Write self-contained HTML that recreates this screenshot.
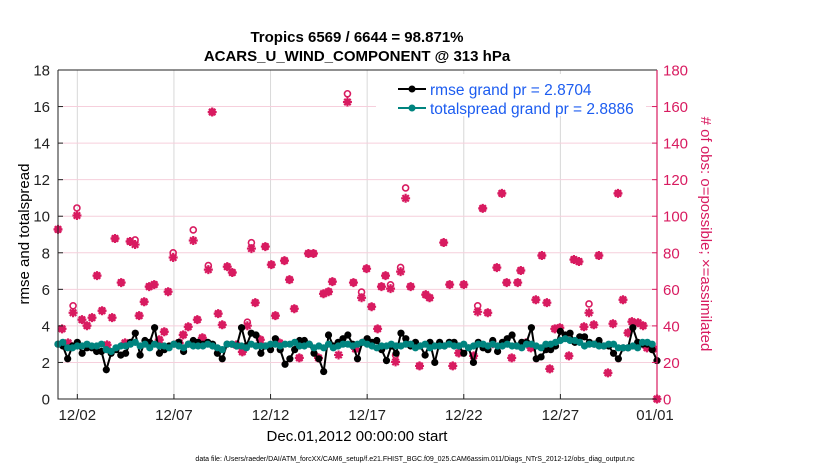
<!DOCTYPE html>
<html><head><meta charset="utf-8"><style>
body{margin:0;background:#fff;}
svg{display:block;font-family:"Liberation Sans",sans-serif;}
</style></head><body>
<svg id="chart" width="830" height="470" viewBox="0 0 830 470">
<g id="grid"></g>
<g id="series"></g>
<g id="axes"></g>
<text x="357" y="42" text-anchor="middle" font-size="15" font-weight="bold">Tropics 6569 / 6644 = 98.871%</text>
<text x="357" y="61" text-anchor="middle" font-size="15" font-weight="bold">ACARS_U_WIND_COMPONENT @ 313 hPa</text>
<text transform="translate(29,234) rotate(-90)" text-anchor="middle" font-size="15">rmse and totalspread</text>
<text transform="translate(701,234) rotate(90)" text-anchor="middle" font-size="15" fill="#d81b60"># of obs: o=possible; ×=assimilated</text>
<text x="357" y="441" text-anchor="middle" font-size="15">Dec.01,2012 00:00:00 start</text>
<text x="415" y="461" text-anchor="middle" font-size="7">data file: /Users/raeder/DAI/ATM_forcXX/CAM6_setup/f.e21.FHIST_BGC.f09_025.CAM6assim.011/Diags_NTrS_2012-12/obs_diag_output.nc</text>
<g>
<rect x="376" y="74" width="270" height="42" fill="#fff"/>
<g>
<line x1="398" y1="89" x2="426" y2="89" stroke="#000" stroke-width="2"/><circle cx="412" cy="89" r="3.5" fill="#000"/>
<text x="430" y="95" font-size="15.5" fill="#1c5cf0">rmse grand pr = 2.8704</text></g>
<g>
<line x1="398" y1="108" x2="426" y2="108" stroke="#00847f" stroke-width="2"/><circle cx="412" cy="108" r="3.5" fill="#00847f"/>
<text x="430" y="114" font-size="15.5" fill="#1c5cf0">totalspread grand pr = 2.8886</text></g>
</g>
</svg>
<script>
const rmse=[3.0,2.9,2.2,2.9,3.1,2.5,2.8,2.8,2.6,2.6,1.6,2.5,2.7,2.4,2.5,3.1,3.6,2.4,3.2,3.1,3.9,2.5,2.7,2.9,3.0,3.1,2.6,3.0,3.2,3.1,3.0,3.1,3.0,2.5,2.2,3.0,3.0,2.9,3.9,2.9,3.6,3.5,2.5,2.9,2.7,3.3,2.7,1.9,2.2,2.7,3.2,3.2,3.0,2.5,2.2,1.5,3.5,2.9,3.1,3.3,3.5,3.0,
2.2,3.1,3.3,3.1,3.2,2.7,2.1,2.9,2.5,3.6,3.3,2.9,3.1,2.9,2.4,3.1,2.0,3.1,2.9,3.1,3.1,2.9,2.5,2.8,2.0,3.1,2.8,2.7,3.2,2.6,3.1,3.3,3.5,2.9,3.1,3.1,3.9,2.2,2.3,2.7,2.7,2.9,3.7,3.5,3.6,3.1,3.4,3.4,3.1,3.0,3.2,2.9,2.9,2.5,2.2,2.8,2.8,3.9,3.1,3.0,3.0,2.7,2.1];
const spread=[3.0,3.1,2.8,2.8,2.9,2.9,3.0,2.9,2.9,3.0,2.7,2.6,2.8,2.9,2.9,3.0,3.1,2.9,3.0,2.8,3.0,2.9,2.9,2.8,3.0,2.9,2.8,3.0,2.9,2.9,2.9,3.0,2.9,2.8,2.7,3.0,3.0,2.9,2.9,2.8,3.0,2.9,2.9,2.9,3.0,3.0,2.9,3.0,3.0,3.1,2.9,2.9,3.0,2.8,2.9,2.8,3.0,2.8,2.9,3.0,3.0,2.9,
3.0,3.1,3.0,2.9,2.8,2.9,2.9,3.0,2.9,2.9,3.0,3.0,2.8,2.9,3.0,2.8,2.9,2.9,2.9,3.0,2.9,2.9,3.0,2.8,2.9,3.0,3.0,2.9,3.0,2.9,2.9,3.0,2.9,2.9,2.8,3.0,3.0,2.9,2.8,3.0,3.0,3.1,3.2,3.3,3.2,3.2,3.1,2.9,3.0,3.0,2.9,2.9,3.0,3.0,2.8,2.8,2.8,2.9,2.8,3.1,3.1,3.0];
const obsDay=[0.00,0.21,0.52,0.78,0.98,1.24,1.50,1.76,2.02,2.28,2.54,2.80,2.95,3.27,3.47,3.73,3.99,4.20,4.46,4.72,4.98,5.24,5.50,5.70,5.96,6.27,6.48,6.74,7.00,7.21,7.47,7.78,7.98,8.29,8.50,8.76,9.02,9.23,9.54,9.80,10.01,10.21,10.47,10.73,11.04,11.25,11.46,11.72,11.98,12.23,12.49,12.70,12.96,13.22,13.48,13.74,14.00,14.20,14.52,14.98,15.29,15.40,15.71,15.97,16.23,16.54,16.74,16.95,17.21,17.47,17.73,17.99,18.25,18.71,19.03,19.23,19.96,20.27,20.43,20.74,21.00,21.51,21.72,21.98,22.24,22.50,22.71,22.97,23.22,23.48,23.79,23.95,24.21,24.47,24.73,25.04,25.30,25.45,25.71,25.97,26.44,26.70,26.96,27.22,27.48,27.73,27.99,28.46,28.72,28.98,29.24,29.50,29.70,30.02,30.28,30.48,30.79,31.0];
const obsAssim=[92.8,38.4,30.7,47.2,100.4,43.4,40.1,44.5,67.5,48.3,29.6,44.5,87.8,63.7,30.7,86.2,84.5,45.6,53.2,61.5,62.6,32.4,36.8,58.7,77.4,30.7,35.1,39.5,86.7,43.4,33.5,70.8,157,46.7,40.6,72.4,69.2,29.6,25.8,40.1,82.3,52.7,32.4,83.4,73.5,45.6,30.7,75.7,65.3,49.4,22.5,30.7,79.6,79.6,22.5,57.6,58.7,64.2,24.1,162.5,63.7,27.4,55.4,71.3,50.5,38.4,61.5,67.5,60.4,20.3,69.7,109.8,61.5,18.1,57.1,55.4,85.6,62.6,18.1,25.2,62.6,23.6,47.7,104.3,47.2,30.2,71.9,112.5,63.7,22.5,63.7,70.3,30.7,28.0,54.3,78.5,52.7,16.5,38.4,39.0,23.6,76.3,75.2,39.5,47.2,40.6,78.5,14.3,41.2,112.5,54.3,36.2,42.3,41.7,40.1,28.0,27.4,0];
const obsPossible=[92.8,38.4,30.7,51,104.5,43.4,40.1,44.5,67.5,48.3,29.6,44.5,87.8,63.7,30.7,86.2,87,45.6,53.2,61.5,62.6,32.4,36.8,58.7,80,30.7,35.1,39.5,92.5,43.4,33.5,73,157,46.7,40.6,72.4,69.2,29.6,25.8,42,85.5,52.7,32.4,83.4,73.5,45.6,30.7,75.7,65.3,49.4,22.5,30.7,79.6,79.6,22.5,57.6,58.7,64.2,30,167,63.7,27.4,58.5,71.3,50.5,38.4,61.5,67.5,62.5,24,72,115.5,61.5,18.1,57.1,55.4,85.6,62.6,18.1,25.2,62.6,23.6,51,104.3,47.2,30.2,71.9,112.5,63.7,22.5,63.7,70.3,30.7,28.0,54.3,78.5,52.7,16.5,38.4,39.0,23.6,76.3,75.2,39.5,52,40.6,78.5,14.3,41.2,112.5,54.3,36.2,42.3,41.7,40.1,28.0,27.4,0];
const xTickDays=[1,6,11,16,21,26,31];
const xTickLabels=["12/02","12/07","12/12","12/17","12/22","12/27","01/01"];
const yTicks=[0,2,4,6,8,10,12,14,16,18];
const y2Ticks=[0,20,40,60,80,100,120,140,160,180];

const L=58,R=657,T=70,B=399,XMAX=31,YMAX=18,Y2MAX=180;
const RED="#d81b60";
const xs=d=>L+d/XMAX*(R-L);
const ys=v=>B-v/YMAX*(B-T);
const y2s=v=>B-v/Y2MAX*(B-T);
const NS="http://www.w3.org/2000/svg";
function mk(tag,attrs,parent){const e=document.createElementNS(NS,tag);for(const k in attrs)e.setAttribute(k,attrs[k]);parent.appendChild(e);return e;}
const grid=document.getElementById('grid'),series=document.getElementById('series'),axes=document.getElementById('axes');

xTickDays.forEach((d,i)=>{
 const g=mk('line',{x1:xs(d),x2:xs(d),y1:T,y2:B,stroke:"#d8d8d8","stroke-width":1},grid);
 
 
 const t=mk('line',{x1:xs(d),x2:xs(d),y1:B,y2:B-5,stroke:"#222","stroke-width":1},axes);
 
 
 const lb=mk('text',{x:xs(d)-(i==6?2:0),y:B+21,"text-anchor":"middle","font-size":15,fill:"#222"},axes);
 lb.textContent=xTickLabels[i];
 
 
});
yTicks.forEach(v=>{
 if(v>0&&v<YMAX){const g=mk('line',{x1:L,x2:R,y1:ys(v),y2:ys(v),stroke:"#f6cfdc","stroke-width":1},grid);
 
 }
 const t=mk('line',{x1:L,x2:L+5,y1:ys(v),y2:ys(v),stroke:"#222"},axes);
 
 
 const lb=mk('text',{x:L-8,y:ys(v)+5.5,"text-anchor":"end","font-size":15,fill:"#222"},axes);
 lb.textContent=v;
 
 
});
y2Ticks.forEach(v=>{
 const t=mk('line',{x1:R-5,x2:R,y1:y2s(v),y2:y2s(v),stroke:RED},axes);
 
 
 const lb=mk('text',{x:R+6,y:y2s(v)+5.5,"font-size":15,fill:RED},axes);
 lb.textContent=v;
 
 
});
let a=mk('path',{d:`M${L},${T}H${R}M${L},${T}V${B}H${R}`,fill:"none",stroke:"#222","stroke-width":1},axes);


a=mk('line',{x1:R,x2:R,y1:T,y2:B,stroke:RED,"stroke-width":1.2},axes);



obsDay.forEach((d,i)=>{
 const x=xs(d),ya=y2s(obsAssim[i]),yp=y2s(obsPossible[i]);
 const g=mk('g',{stroke:RED,"stroke-width":2.2,fill:"none"},series);
 
 
 mk('circle',{cx:x,cy:yp,r:3,"stroke-width":1.6},g);
 mk('path',{d:`M${x-4.5},${ya}h9M${x},${ya-4.5}v9M${x-3.2},${ya-3.2}l6.4,6.4M${x-3.2},${ya+3.2}l6.4,-6.4`},g);
 mk('circle',{cx:x,cy:ya,r:3,fill:RED,stroke:"none"},g);
});
function line(vals,color,name){
 const pts=vals.map((v,i)=>[xs(i*0.25),ys(v)]);
 const p=mk('polyline',{points:pts.map(p=>p.join(',')).join(' '),fill:"none",stroke:color,"stroke-width":2},series);
 
 
 pts.forEach(q=>{const c=mk('circle',{cx:q[0],cy:q[1],r:3.6,fill:color},series);
 
 });
}
line(rmse,"#000","rmse");
line(spread,"#00847f","totalspread");
</script>
</body></html>
